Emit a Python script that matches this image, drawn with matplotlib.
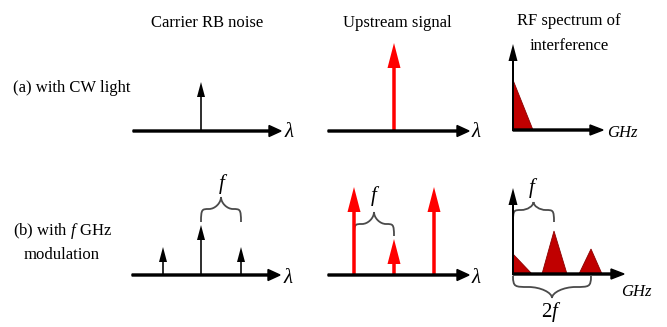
import matplotlib
matplotlib.use('Agg')
import matplotlib.pyplot as plt
from matplotlib.patches import FancyArrow, Polygon, PathPatch
from matplotlib.path import Path

plt.rcParams['font.family'] = ['Liberation Serif', 'DejaVu Serif']
plt.rcParams['mathtext.fontset'] = 'custom'
plt.rcParams['mathtext.rm'] = 'Liberation Serif'
plt.rcParams['mathtext.it'] = 'Liberation Serif:italic'

# ---------------- data ----------------
column_titles = ['Carrier RB noise', 'Upstream signal', 'RF spectrum of', 'interference']
row_labels = ['(a) with CW light', '(b) with $f$ GHz', 'modulation']

# spectral lines: x positions and heights (px above baseline)
rb_a_x = [201]
rb_a_h = [49]
rb_b_x = [163, 201, 241]
rb_b_h = [28, 50, 28]
up_a_x = [394]
up_a_h = [88]
up_b_x = [354, 394, 434]
up_b_h = [88, 36, 88]
# RF spectrum triangles: left, apex x, right, height
rf_a_tri = [(513, 513, 533, 50)]
rf_b_tri = [(513, 513, 532, 20), (542, 554, 567, 43), (579, 591, 602, 25)]

# ---------------- figure ----------------
fig = plt.figure(figsize=(6.67, 3.27), dpi=100)
ax = fig.add_axes([0, 0, 1, 1])
ax.set_xlim(0, 667)
ax.set_ylim(327, 0)
ax.axis('off')

BLACK = '#000000'
RED = '#FF0000'
DRED = '#C00000'
GRAY = '#4a4a4a'


def harrow(x0, x1, y, hw=11, hl=12):
    ax.add_patch(FancyArrow(x0, y, x1 - x0, 0, width=2, head_width=hw, head_length=hl,
                            length_includes_head=True, color=BLACK, zorder=5))


def varrow(x, y0, y1, w, hw, hl, color):
    ax.add_patch(FancyArrow(x, y0, 0, y1 - y0, width=w, head_width=hw, head_length=hl,
                            length_includes_head=True, color=color, lw=0, zorder=4))


def brace(x0, x1, ye, yb, yc):
    xm = (x0 + x1) / 2
    w = xm - x0
    ymid = (yb + yc) / 2
    verts = [(x0, ye), (x0, yb), (x0 + 0.05 * w, yb), (x0 + 0.4 * w, yb),
             (xm - 0.3 * w, yb), (xm, ymid), (xm, yc),
             (xm, ymid), (xm + 0.3 * w, yb), (xm + 0.6 * w, yb),
             (x1 - 0.05 * w, yb), (x1, yb), (x1, ye)]
    codes = [Path.MOVETO] + [Path.CURVE4] * 12
    ax.add_patch(PathPatch(Path(verts, codes), fill=False, edgecolor=GRAY, lw=1.3, zorder=3))


# titles
ax.text(207, 27, column_titles[0], ha='center', va='baseline', fontsize=12)
ax.text(397, 27, column_titles[1], ha='center', va='baseline', fontsize=12)
ax.text(569, 25, column_titles[2], ha='center', va='baseline', fontsize=12)
ax.text(569, 50, column_titles[3], ha='center', va='baseline', fontsize=12)

# row labels
ax.text(72, 92, row_labels[0], ha='center', va='baseline', fontsize=12)
ax.text(62, 235, row_labels[1], ha='center', va='baseline', fontsize=12)
ax.text(62, 259, row_labels[2], ha='center', va='baseline', fontsize=12)

# ---- row (a) ----
ya, yb_ = 131, 275
harrow(133, 281, ya)
ax.text(289, 137, 'λ', ha='center', va='baseline', fontsize=15, style='italic')
for x, h in zip(rb_a_x, rb_a_h):
    varrow(x, ya, ya - h, 1.6, 8, 15, BLACK)

harrow(328, 469, ya)
ax.text(476, 137, 'λ', ha='center', va='baseline', fontsize=15, style='italic')
for x, h in zip(up_a_x, up_a_h):
    varrow(x, ya, ya - h, 3.5, 13, 25, RED)

rfa = 130
for l, p, r, h in rf_a_tri:
    ax.add_patch(Polygon([(l, rfa), (p, rfa - h), (r, rfa)], closed=True,
                         facecolor=DRED, edgecolor='#8B0000', lw=0.6, zorder=2))
harrow(513, 603, rfa, hw=10, hl=13)
varrow(513, rfa + 1, 44, 2, 9, 17, BLACK)
ax.text(607, 137, 'GHz', ha='left', va='baseline', fontsize=12, style='italic')

# ---- row (b) ----
harrow(132, 280, yb_)
ax.text(288, 283, 'λ', ha='center', va='baseline', fontsize=15, style='italic')
for x, h in zip(rb_b_x, rb_b_h):
    varrow(x, yb_, yb_ - h, 1.6, 8, 15, BLACK)
brace(rb_b_x[1], rb_b_x[2], 222, 209, 197)
ax.text(222, 184, 'f', ha='center', va='center', fontsize=15, style='italic')

harrow(328, 469, yb_)
ax.text(476, 283, 'λ', ha='center', va='baseline', fontsize=15, style='italic')
for x, h in zip(up_b_x, up_b_h):
    varrow(x, yb_, yb_ - h, 3.5, 13, 25, RED)
brace(up_b_x[0], up_b_x[1], 236, 224, 212)
ax.text(374, 196, 'f', ha='center', va='center', fontsize=15, style='italic')

rfb = 274
for l, p, r, h in rf_b_tri:
    ax.add_patch(Polygon([(l, rfb), (p, rfb - h), (r, rfb)], closed=True,
                         facecolor=DRED, edgecolor='#8B0000', lw=0.6, zorder=2))
harrow(513, 624, rfb, hw=10, hl=13)
varrow(513, rfb + 1, 188, 2, 9, 17, BLACK)
ax.text(621, 296, 'GHz', ha='left', va='baseline', fontsize=12, style='italic')
brace(513, rf_b_tri[1][1], 222, 210, 202)
ax.text(532, 188, 'f', ha='center', va='center', fontsize=15, style='italic')
brace(513, rf_b_tri[2][1], 276, 287, 298)
ax.text(551, 312, '$\\mathrm{2}f$', ha='center', va='center', fontsize=15)

fig.savefig('out.png', dpi=100)
